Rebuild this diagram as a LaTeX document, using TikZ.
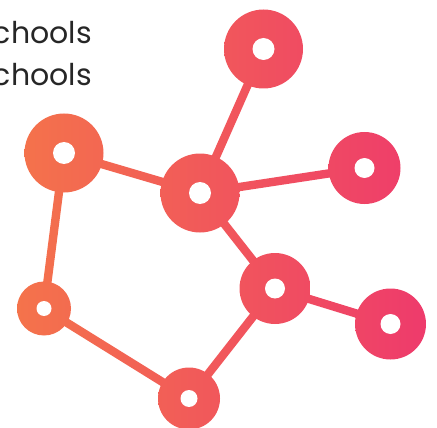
\documentclass[tikz,border=0pt]{standalone}
\usepackage{fontspec}
\setmainfont{Poppins}
\usetikzlibrary{calc,backgrounds}
\definecolor{gradL}{HTML}{F4734B}
\definecolor{gradR}{HTML}{EE3A6C}
% colour of the horizontal gradient at pixel x (0..437)
\newcommand{\gradAt}[2]{\pgfmathtruncatemacro{\gradP}{min(100,max(0,(#1-15)/4.15))}\colorlet{#2}{gradR!\gradP!gradL}}
\newcommand{\hub}[5]{% name, x, y, outer radius, inner radius
  \gradAt{#2-#4}{hubL}\gradAt{#2+#4}{hubR}
  \node[hubdisc, minimum size=2*#4, left color=hubL, right color=hubR] (#1) at (#2,#3) {};
  \node[hubhole, minimum size=2*#5] (#1-hole) at (#1.center) {};
}
\newcommand{\link}[2]{% shaded bar between two hubs
  \path (#1.center); \pgfgetlastxy{\linkXa}{\linkYa}
  \path (#2.center); \pgfgetlastxy{\linkXb}{\linkYb}
  \gradAt{min(\linkXa,\linkXb)/1pt-4}{linkL}\gradAt{max(\linkXa,\linkXb)/1pt+4}{linkR}
  \shade[left color=linkL, right color=linkR]
    ($(#1.center)!4.2pt!90:(#2.center)$) -- ($(#1.center)!4.2pt!-90:(#2.center)$)
    -- ($(#2.center)!4.2pt!90:(#1.center)$) -- ($(#2.center)!4.2pt!-90:(#1.center)$) -- cycle;
}
\tikzset{
  hubdisc/.style={circle, inner sep=0pt, outer sep=0pt},
  hubhole/.style={circle, fill=white, inner sep=0pt, outer sep=0pt},
  label text/.style={anchor=base east, inner sep=0pt, text=black!85, font=\fontsize{30}{30}\selectfont}
}
\begin{document}
\begin{tikzpicture}[x=1pt,y=-1pt]
\useasboundingbox[clip] (0,0) rectangle (437,428);
\node[label text] (t1) at (92,44) {chools};
\node[label text] (t2) at (92,86) {chools};
\hub{a}{263.5}{49}{39.5}{11}
\hub{b}{64}{153}{39.5}{11}
\hub{c}{200}{193}{39.5}{11}
\hub{d}{364.5}{168}{36}{10}
\hub{e}{275}{288.5}{35.5}{10}
\hub{f}{390.5}{324}{35.5}{10}
\hub{g}{44}{308.5}{27}{7.5}
\hub{h}{189}{398.5}{31}{8.5}
\begin{scope}[on background layer]
\link{c}{a}
\link{c}{b}
\link{c}{d}
\link{c}{e}
\link{e}{f}
\link{e}{h}
\link{h}{g}
\link{g}{b}
\end{scope}
\end{tikzpicture}
\end{document}
